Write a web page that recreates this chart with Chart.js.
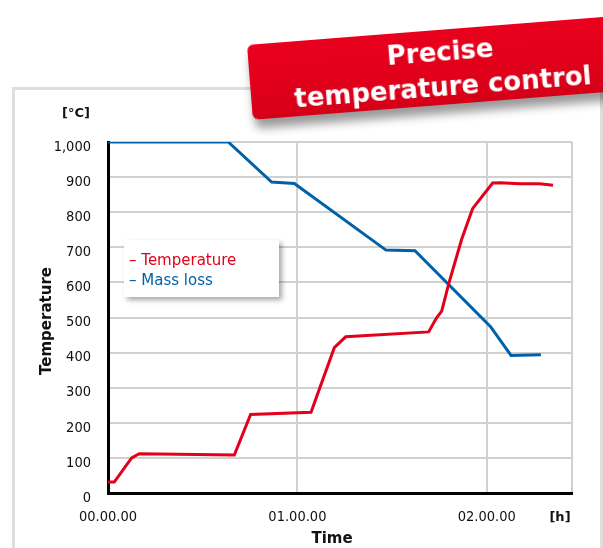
<!DOCTYPE html>
<html>
<head>
<meta charset="utf-8">
<title>Precise temperature control</title>
<script src="https://cdn.jsdelivr.net/npm/chart.js@4.4.1/dist/chart.umd.min.js"></script>
<style>
    html, body {
        margin: 0;
        padding: 0;
        background: #fff;
        width: 603px;
        height: 548px;
        overflow: hidden;
        font-family: "DejaVu Sans", sans-serif;
    }
    #card {
        position: absolute;
        left: 12px;
        top: 87px;
        width: 585px;
        height: 520px;
        border: 3px solid #dedede;
        background: #fff;
    }
    #wrap {
        position: absolute;
        left: 0;
        top: 0;
        width: 603px;
        height: 548px;
    }
    #legend {
        position: absolute;
        left: 124px;
        top: 240px;
        width: 155px;
        height: 57px;
        background: #fff;
        box-shadow: 3px 3px 5px rgba(0, 0, 0, 0.35);
        font-size: 15px;
        line-height: 20px;
        padding-top: 10px;
        box-sizing: border-box;
    }
    #legend div {
        padding-left: 5px;
        white-space: nowrap;
    }
    #banner {
        position: absolute;
        left: 247px;
        top: 45px;
        width: 420px;
        height: 75px;
        transform-origin: 0 0;
        transform: rotate(-4.5deg);
        background: linear-gradient(#e9001d, #e0001a 60%, #d40018);
        border-radius: 6px 0 0 6px;
        box-shadow: 2px 9px 10px rgba(0, 0, 0, 0.4);
        color: #fff;
        font-weight: bold;
        font-size: 26px;
        line-height: 35px;
        box-sizing: border-box;
        padding-top: 5px;
    }
    #banner div {
        width: 384px;
        text-align: center;
    }
</style>
</head>
<body>
<div id="card"></div>
<div id="wrap"><canvas id="chart" width="603" height="548"></canvas></div>
<div id="legend"></div>
<div id="banner"><div>Precise</div><div>temperature control</div></div>
<script>
// 数据（时间单位：小时）
const tempHours  = [0, 0.033, 0.125, 0.165, 0.667, 0.753, 1.072, 1.195, 1.255, 1.693, 1.735, 1.762, 1.80, 1.867, 1.925, 2.031, 2.07, 2.175, 2.28, 2.35];
const tempValues = [31, 31, 100, 112, 108, 224, 230, 414, 445, 459, 499, 518, 598, 722, 810, 883, 884, 881, 881, 877];
const massHours  = [0, 0.635, 0.864, 0.984, 1.468, 1.621, 2.02, 2.128, 2.286];
const massValues = [1000, 1000, 886, 882, 692, 690, 474, 392, 394];
const xTicks = [0, 1, 2];
const X_MAX = 2.45;
const Y_MAX = 1000;

const RED = '#e2001a';
const BLUE = '#0061a8';
const FONT = 'DejaVu Sans';
const TICK_FONT = 'DejaVu Sans Condensed';

const toPoints = (xs, ys) => xs.map((x, i) => ({ x: x, y: ys[i] }));
const pad2 = n => (n < 10 ? '0' : '') + n;

// 坐标轴标题
const axisCaptions = {
    id: 'axisCaptions',
    afterDraw(chart) {
        const ctx = chart.ctx;
        ctx.save();
        ctx.fillStyle = '#111';
        ctx.textAlign = 'center';
        ctx.textBaseline = 'middle';
        ctx.font = 'bold 13px "' + FONT + '"';
        ctx.fillText('[°C]', 76, 114);
        ctx.fillText('[h]', 560, 518);
        ctx.font = 'bold 15px "' + FONT + '"';
        ctx.fillText('Time', 332, 539);
        ctx.translate(47, 321);
        ctx.rotate(-Math.PI / 2);
        ctx.fillText('Temperature', 0, 0);
        ctx.restore();
    }
};

const chart = new Chart(document.getElementById('chart'), {
    type: 'line',
    data: {
        datasets: [{
            label: 'Temperature',
            data: toPoints(tempHours, tempValues),
            borderColor: RED,
            backgroundColor: RED,
            borderWidth: 3,
            pointRadius: 0,
            tension: 0
        }, {
            label: 'Mass loss',
            data: toPoints(massHours, massValues),
            borderColor: BLUE,
            backgroundColor: BLUE,
            borderWidth: 3,
            pointRadius: 0,
            tension: 0
        }]
    },
    options: {
        responsive: false,
        animation: false,
        layout: { padding: { left: 0, top: 142, right: 31, bottom: 0 } },
        plugins: {
            legend: { display: false },
            tooltip: { enabled: false }
        },
        scales: {
            x: {
                type: 'linear',
                min: 0,
                max: X_MAX,
                afterBuildTicks: s => { s.ticks = xTicks.concat([X_MAX]).map(v => ({ value: v })); },
                afterFit: s => { s.height = 55; },
                ticks: {
                    padding: 16,
                    color: '#111',
                    maxRotation: 0,
                    autoSkip: false,
                    font: { family: TICK_FONT, size: 14.5 },
                    callback: v => xTicks.includes(v) ? pad2(v) + '.00.00' : ''
                },
                grid: { color: '#d0d0d0', lineWidth: 2, drawTicks: false },
                border: { color: '#000', width: 3 }
            },
            y: {
                min: 0,
                max: Y_MAX,
                afterFit: s => { s.width = 108; },
                ticks: {
                    stepSize: 100,
                    padding: 17,
                    labelOffset: 5,
                    color: '#111',
                    font: { family: TICK_FONT, size: 14.5 },
                    callback: v => v.toLocaleString('en-US')
                },
                grid: { color: '#d0d0d0', lineWidth: 2, drawTicks: false },
                border: { color: '#000', width: 3 }
            }
        }
    },
    plugins: [axisCaptions]
});

// 图例
document.getElementById('legend').innerHTML = chart.data.datasets.map(ds =>
    '<div style="color:' + ds.borderColor + '">\u2013 ' + ds.label + '</div>'
).join('');
</script>
</body>
</html>
